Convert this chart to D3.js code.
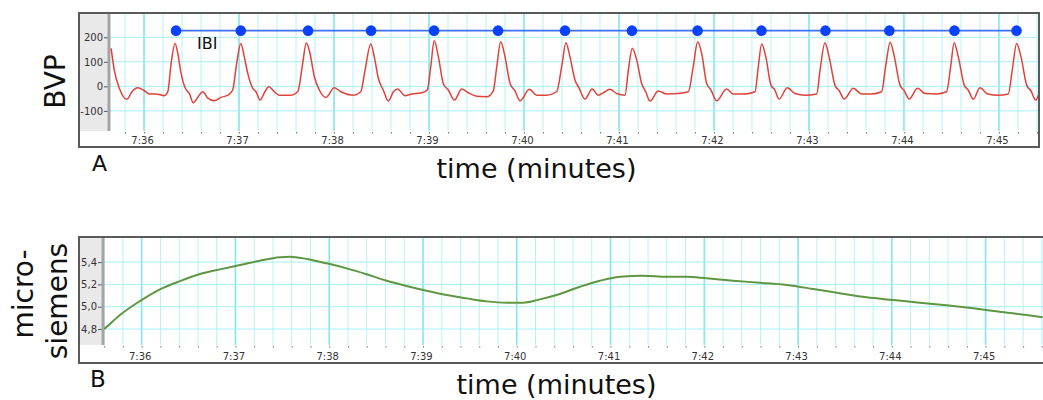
<!DOCTYPE html>
<html>
<head>
<meta charset="utf-8">
<script src="https://cdn.jsdelivr.net/npm/d3@7/dist/d3.min.js"></script>
<style>
body { margin: 0; background: #fff; }
</style>
</head>
<body>
<script>
// times are seconds after 7:35:00
let bvpTimes = [39.2, 41.2, 44.4, 49.1, 52.4, 56.0, 60.2, 63.3, 67.6, 72.8, 75.0, 77.1, 79.6, 81.3, 83.4, 86.1,
    88.6, 91.1, 93.9, 97.1, 100.2, 104.4, 108.6, 112.9, 116.0, 118.5, 121.1, 123.3, 125.5, 128.7, 130.7, 133.3,
    136.0, 138.8, 142.3, 145.5, 152.8, 157.1, 160.2, 162.5, 164.8, 167.6, 170.7, 174.9, 180.2, 184.4, 192.2, 196.9,
    199.6, 203.2, 205.4, 208.0, 211.1, 214.3, 217.5, 220.2, 224.8, 229.1, 235.4, 238.9, 241.1, 243.3, 245.9, 249.0,
    252.2, 256.0, 260.7, 264.8, 270.1, 276.4, 280.6, 282.8, 285.3, 288.0, 291.2, 294.3, 297.5, 303.4, 308.0, 314.3,
    320.6, 323.8, 326.5, 329.0, 332.2, 334.9, 338.5, 343.1, 346.9, 350.1, 354.3, 358.5, 363.8, 365.9, 368.4, 371.2,
    374.3, 376.9, 379.6, 384.8, 390.1, 397.5, 403.8, 406.9, 409.7, 412.2, 415.4, 418.1, 421.7, 428.0, 432.2, 439.6,
    445.9, 448.0, 450.1, 452.7, 456.0, 458.5, 461.1, 466.3, 471.2, 477.5, 484.9, 487.0, 490.1, 492.7, 496.4, 499.1,
    502.3, 508.0, 513.3, 519.6, 525.9, 528.4, 531.3, 533.9, 537.5, 540.2, 543.3, 548.6, 553.3, 560.6, 566.9, 569.5,
    571.7, 574.3, 578.1, 580.6, 583.8, 588.0, 592.9, 599.6, 605.9, 608.4, 611.2, 613.9, 617.5, 620.2, 623.2, 625.3];
let bvpValues = [155, 66, -8, -53, -22, -6, -18, -31, -31, -38, -22, 94, 175, 135, 53, -8,
    -29, -67, -45, -22, -47, -59, -45, -36, -15, 94, 175, 121, 53, -8, -22, -56,
    -26, -2, -22, -36, -36, -22, 94, 178, 135, 39, -15, -45, -6, -22, -36, -22,
    66, 173, 121, 33, -15, -60, -22, -11, -38, -31, -26, -15, 80, 186, 121, 12,
    -15, -56, -11, -26, -40, -42, -18, 80, 182, 121, 12, -18, -59, -12, -36, -36,
    -22, 80, 178, 121, 26, -8, -52, -11, -36, -26, -12, -29, -36, 66, 155, 107,
    12, -22, -60, -19, -31, -29, -22, 80, 182, 135, 12, -15, -59, -11, -31, -31,
    -22, 80, 173, 121, 5, -15, -52, -6, -29, -36, -31, 66, 178, 121, 5, -18,
    -52, -8, -31, -31, -22, 80, 180, 121, 5, -18, -52, -8, -29, -31, -22, 80,
    178, 121, 5, -15, -52, -6, -31, -36, -31, 66, 175, 121, 5, -18, -56, -30];

let ibiTimes = [80.2, 121.1, 163.6, 203.4, 243.2, 283.6, 325.9, 368.2, 409.6, 450.0, 490.4, 530.8, 571.9, 611.1];
let ibiLevel = 227;
let bvpTicks = [-100, 0, 100, 200];

let edaTimes = [35.9, 37.2, 46.1, 58.9, 71.7, 84.5, 97.3, 110.1, 122.9, 135.7, 148.5, 154.9, 165.6, 178.4, 191.2,
    204.0, 216.8, 229.5, 242.3, 255.1, 267.9, 280.7, 293.5, 304.1, 314.8, 325.5, 340.4, 353.2, 366.0, 380.9, 395.9,
    408.7, 421.5, 438.5, 455.6, 472.7, 489.7, 506.8, 523.9, 540.9, 557.9, 575.0, 592.1, 609.1, 626.2, 636.5];
let edaValues = [4.80, 4.815, 4.926, 5.051, 5.156, 5.230, 5.293, 5.335, 5.374, 5.413, 5.443, 5.448, 5.428, 5.389, 5.344,
    5.291, 5.233, 5.186, 5.143, 5.105, 5.075, 5.048, 5.036, 5.036, 5.066, 5.105, 5.179, 5.233, 5.269, 5.278, 5.269,
    5.269, 5.255, 5.233, 5.215, 5.195, 5.159, 5.120, 5.084, 5.060, 5.036, 5.013, 4.986, 4.955, 4.926, 4.905];
let edaTicks = [4.8, 5.0, 5.2, 5.4];

let minuteTicks = [60, 120, 180, 240, 300, 360, 420, 480, 540, 600];
let minuteLabels = ["7:36", "7:37", "7:38", "7:39", "7:40", "7:41", "7:42", "7:43", "7:44", "7:45"];

function drawPanel(svg, p) {
    let g = svg.append("g");

    // grey band behind the y axis
    g.append("rect")
        .attr("x", p.frameLeft).attr("y", p.frameTop)
        .attr("width", p.plotLeft - p.frameLeft)
        .attr("height", p.plotBottom - p.frameTop)
        .attr("fill", "#e9e9e9");

    // vertical grid every 12 s, thicker on the minute
    let steps = d3.range(Math.ceil(p.x.domain()[0] / 12) * 12, p.x.domain()[1], 12);
    g.append("g").selectAll("line")
        .data(steps)
        .enter()
        .append("line")
        .attr("x1", d => p.x(d)).attr("x2", d => p.x(d))
        .attr("y1", p.frameTop).attr("y2", p.plotBottom)
        .attr("stroke", d => d % 60 === 0 ? "#7fe7f0" : "#b4f2f7")
        .attr("stroke-width", d => d % 60 === 0 ? 1.6 : 1);

    g.append("g").selectAll("line")
        .data(p.yTicks)
        .enter()
        .append("line")
        .attr("x1", p.plotLeft).attr("x2", p.plotRight)
        .attr("y1", d => p.y(d)).attr("y2", d => p.y(d))
        .attr("stroke", "#a6eff5");

    // y axis
    let yAxis = g.append("g")
        .attr("transform", "translate(" + (p.plotLeft - 2) + ",0)")
        .call(d3.axisLeft(p.y).tickValues(p.yTicks).tickSize(4).tickSizeOuter(0).tickPadding(1).tickFormat(p.yFormat));
    yAxis.select(".domain").remove();
    yAxis.selectAll("line").attr("stroke", "#555");
    yAxis.selectAll("text").attr("font-family", "DejaVu Sans").attr("font-size", 10).attr("fill", "#333");

    g.append("line")
        .attr("x1", p.plotLeft - 1).attr("x2", p.plotLeft - 1)
        .attr("y1", p.frameTop).attr("y2", p.plotBottom)
        .attr("stroke", "#a4a4a4").attr("stroke-width", 3);

    // minor tick dots under the plot
    let dots = g.append("g")
        .attr("transform", "translate(0," + (p.plotBottom + 1) + ")")
        .call(d3.axisBottom(p.x).tickValues(steps).tickSize(1.5).tickFormat(""));
    dots.select(".domain").remove();
    dots.selectAll("line").attr("stroke", "#777");

    // minute labels
    let xAxis = g.append("g")
        .attr("transform", "translate(-2," + p.plotBottom + ")")
        .call(d3.axisBottom(p.x).tickValues(minuteTicks).tickSize(0).tickPadding(p.labelPad)
            .tickFormat((d, i) => minuteLabels[i]));
    xAxis.select(".domain").remove();
    xAxis.selectAll("text").attr("font-family", "DejaVu Sans").attr("font-size", 10).attr("fill", "#333");

    g.append("clipPath").attr("id", p.id)
        .append("rect")
        .attr("x", p.plotLeft).attr("y", p.frameTop)
        .attr("width", p.plotRight - p.plotLeft)
        .attr("height", p.plotBottom - p.frameTop);

    return g;
}

function main() {
    let svg = d3.select("body").append("svg")
        .attr("width", 1043)
        .attr("height", 400)
        .style("font-family", "DejaVu Sans");

    // ---- panel A: BVP
    let xA = d3.scaleLinear().domain([38.5, 625.3]).range([110, 1039]);
    let yA = d3.scaleLinear().domain([-182, 299]).range([131, 13]);
    let gA = drawPanel(svg, {
        id: "clipA", x: xA, y: yA, yTicks: bvpTicks, yFormat: d => d,
        frameLeft: 79, frameTop: 13, frameRight: 1039, frameBottom: 147,
        plotLeft: 110, plotRight: 1039, plotBottom: 131, labelPad: 6
    });

    let bvpLine = d3.line()
        .x((d, i) => xA(bvpTimes[i]))
        .y(d => yA(d))
        .curve(d3.curveMonotoneX);

    gA.append("path")
        .datum(bvpValues)
        .attr("clip-path", "url(#clipA)")
        .attr("d", bvpLine)
        .attr("fill", "none")
        .attr("stroke", "#e0423a")
        .attr("stroke-width", 1.5);

    gA.append("line")
        .attr("x1", xA(ibiTimes[0])).attr("x2", xA(ibiTimes[ibiTimes.length - 1]))
        .attr("y1", yA(ibiLevel)).attr("y2", yA(ibiLevel))
        .attr("stroke", "#3f6ff5")
        .attr("stroke-width", 1.6);

    gA.selectAll(".ibi")
        .data(ibiTimes)
        .enter()
        .append("circle")
        .attr("cx", d => xA(d))
        .attr("cy", yA(ibiLevel))
        .attr("r", 5.3)
        .attr("fill", "#0a40ff");

    gA.append("text")
        .attr("x", 197).attr("y", 49)
        .attr("font-size", 16)
        .attr("fill", "#111")
        .text("IBI");

    gA.append("rect")
        .attr("x", 79).attr("y", 13).attr("width", 960).attr("height", 134)
        .attr("fill", "none").attr("stroke", "#5a5a5a").attr("stroke-width", 2);

    // ---- panel B: skin conductance
    let xB = d3.scaleLinear().domain([35.9, 641.2]).range([104, 1050]);
    let yB = d3.scaleLinear().domain([4.657, 5.625]).range([345, 237]);
    let gB = drawPanel(svg, {
        id: "clipB", x: xB, y: yB, yTicks: edaTicks, yFormat: d => d3.format(".1f")(d).replace(".", ","),
        frameLeft: 79, frameTop: 237, frameRight: 1050, frameBottom: 363,
        plotLeft: 104, plotRight: 1050, plotBottom: 345, labelPad: 8
    });

    let edaLine = d3.line()
        .x((d, i) => xB(edaTimes[i]))
        .y(d => yB(d))
        .curve(d3.curveMonotoneX);

    gB.append("path")
        .datum(edaValues)
        .attr("clip-path", "url(#clipB)")
        .attr("d", edaLine)
        .attr("fill", "none")
        .attr("stroke", "#5f9643")
        .attr("stroke-width", 2);

    gB.append("rect")
        .attr("x", 79).attr("y", 237).attr("width", 975).attr("height", 126)
        .attr("fill", "none").attr("stroke", "#5a5a5a").attr("stroke-width", 2);

    // ---- titles
    svg.append("text")
        .attr("transform", "translate(65,81.5) rotate(-90)")
        .attr("text-anchor", "middle")
        .attr("font-size", 28)
        .attr("fill", "#111")
        .text("BVP");

    svg.append("text")
        .attr("transform", "translate(33,294) rotate(-90)")
        .attr("text-anchor", "middle")
        .attr("font-size", 28)
        .attr("fill", "#111")
        .text("micro-");

    svg.append("text")
        .attr("transform", "translate(67,301) rotate(-90)")
        .attr("text-anchor", "middle")
        .attr("font-size", 28)
        .attr("fill", "#111")
        .text("siemens");

    svg.append("text").attr("x", 92).attr("y", 171).attr("font-size", 22).attr("fill", "#111").text("A");
    svg.append("text").attr("x", 90).attr("y", 387).attr("font-size", 23).attr("fill", "#111").text("B");

    svg.append("text")
        .attr("x", 536.5).attr("y", 178)
        .attr("text-anchor", "middle")
        .attr("font-size", 27)
        .attr("fill", "#111")
        .text("time (minutes)");

    svg.append("text")
        .attr("x", 556.5).attr("y", 394)
        .attr("text-anchor", "middle")
        .attr("font-size", 27)
        .attr("fill", "#111")
        .text("time (minutes)");
}

main();
</script>
</body>
</html>
